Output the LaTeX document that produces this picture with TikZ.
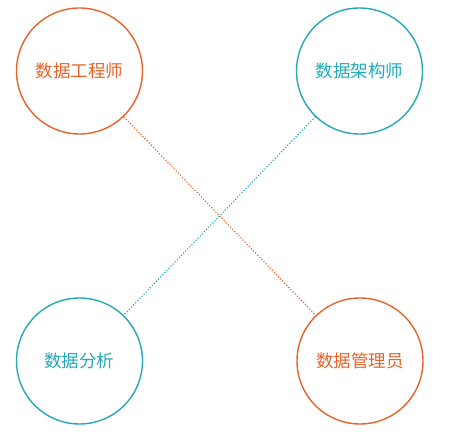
\documentclass[tikz,border=0pt]{standalone}
\usepackage{fontspec}
\newfontfamily\cjk{Noto Sans CJK SC}
\usepackage{tikz}
\usetikzlibrary{positioning}
\definecolor{roleorange}{HTML}{E8622A}
\definecolor{rolecyan}{HTML}{23A9B8}

\tikzset{
  role/.style={circle, draw=#1, line width=1.4pt, minimum size=126pt, inner sep=0pt,
    text=#1, font=\cjk\fontsize{17.5}{20}\selectfont},
  link/.style={draw=#1, line width=1.2pt, dash pattern=on 1.1pt off 1.9pt}
}

\begin{document}
\begin{tikzpicture}[x=1pt,y=-1pt]
\useasboundingbox (0,0) rectangle (451,441);

\node [role=roleorange] (engineer) at (79.5,71) {数据工程师};
\node [role=rolecyan] (architect) at (359.5,71) {数据架构师};
\node [role=rolecyan] (analyst) at (79.5,361) {数据分析};
\node [role=roleorange] (admin) at (360,361) {数据管理员};

\draw [link=roleorange] (engineer) -- (admin);
\draw [link=rolecyan] (architect) -- (analyst);
\end{tikzpicture}
\end{document}
